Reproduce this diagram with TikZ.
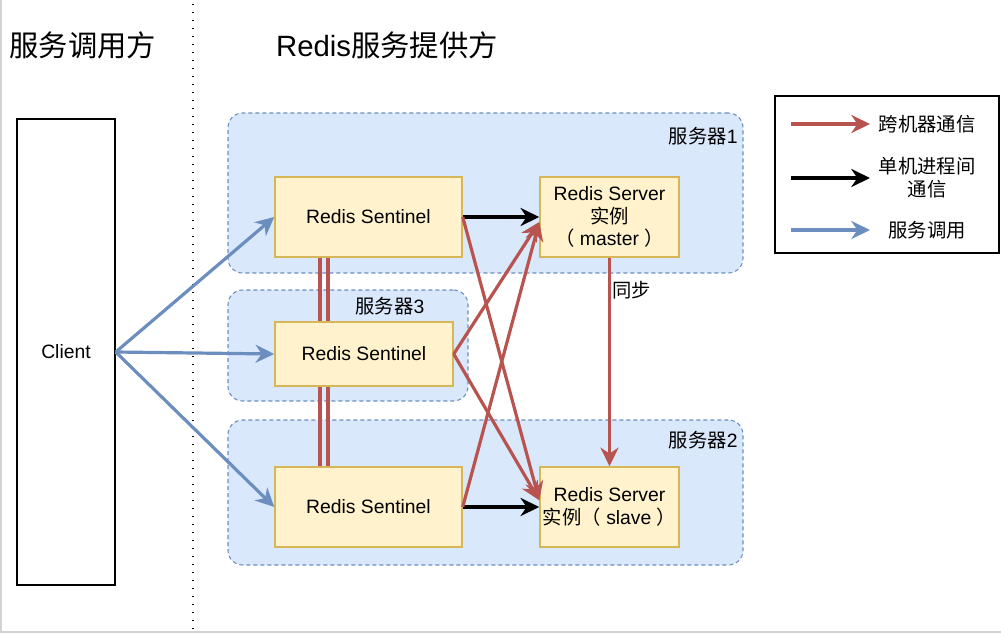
\documentclass[tikz,border=0pt]{standalone}
\usepackage{fontspec}
\setmainfont{Liberation Sans}
\newfontfamily\cjk{Noto Sans CJK SC}
\usetikzlibrary{arrows.meta}
\definecolor{redc}{HTML}{B85450}
\definecolor{bluec}{HTML}{6C8EBF}
\definecolor{bluefill}{HTML}{DAE8FC}
\definecolor{yelfill}{HTML}{FFF2CC}
\definecolor{yeldraw}{HTML}{D6B656}
\begin{document}
\begin{tikzpicture}[x=0.75pt,y=-0.75pt,
  txt/.style={font=\fontsize{14.5pt}{17pt}\selectfont, inner sep=0pt, align=center},
  ttl/.style={font=\fontsize{22pt}{26pt}\selectfont, inner sep=0pt},
  grp/.style={draw=bluec, fill=bluefill, dash pattern=on 3pt off 2.25pt, rounded corners=11pt, line width=0.8pt, inner sep=0pt},
  box/.style={draw=yeldraw, fill=yelfill, line width=1.1pt, txt},
  tip/.style={-{Stealth[length=14pt,width=13.5pt,inset=4.5pt]}},
  redarr/.style={tip, draw=redc, line width=2.4pt},
  blackarr/.style={tip, draw=black, line width=2.6pt},
  bluearr/.style={tip, draw=bluec, line width=2.4pt},
  redline/.style={draw=redc, line width=2.4pt}
]
\useasboundingbox (0,0) rectangle (1001,633);
% frame shadow
\draw[gray!35, line width=1.5pt] (1,0) -- (1,631.5) -- (1001,631.5);
% separator
\draw[line width=0.9pt, dash pattern=on 0.9pt off 5.1pt] (193,4) -- (193,633);
% titles
\node[ttl] (tl) at (83,45) {\cjk 服务调用方};
\node[ttl] (tr) at (387,45) {Redis{\cjk 服务提供方}};
% groups
\node[grp, minimum width=386.25pt, minimum height=120pt] (g1) at (485.5,193) {};
\node[grp, minimum width=180pt, minimum height=83.25pt] (g3) at (348,345.5) {};
\node[grp, minimum width=386.25pt, minimum height=108.75pt] (g2) at (485.5,492.5) {};
\node[txt, anchor=east] (g1l) at (738,136) {{\cjk 服务器}1};
\node[txt] (g3l) at (390,306) {{\cjk 服务器}3};
\node[txt, anchor=east] (g2l) at (738,440) {{\cjk 服务器}2};
% client
\node[draw=black, line width=1.1pt, minimum width=73.5pt, minimum height=349.5pt, txt] (client) at (66,352) {Client};
% sentinels & servers
\node[box, minimum width=140.25pt, minimum height=60pt] (s1) at (368.5,217) {Redis Sentinel};
\node[box, minimum width=133.5pt, minimum height=48pt] (s3) at (364,354) {Redis Sentinel};
\node[box, minimum width=140.25pt, minimum height=60pt] (s2) at (368.5,507) {Redis Sentinel};
\node[box, minimum width=104.25pt, minimum height=60pt] (m) at (609.5,217) {Redis Server\\{\cjk 实例}\\{\cjk （} master {\cjk ）}};
\node[box, minimum width=104.25pt, minimum height=60pt] (sl) at (609.5,507) {Redis Server\\{\cjk 实例（} slave {\cjk ）}};
% double red lines
\coordinate (xa) at (320,0);
\coordinate (xb) at (328,0);
\draw[redline] (s1.south -| xa) -- (s3.north -| xa);
\draw[redline] (s1.south -| xb) -- (s3.north -| xb);
\draw[redline] (s3.south -| xa) -- (s2.north -| xa);
\draw[redline] (s3.south -| xb) -- (s2.north -| xb);
% blue calls
\draw[bluearr] (client.east) -- (s1.west);
\draw[bluearr] (client.east) -- (s3.west);
\draw[bluearr] (client.east) -- (s2.west);
% black local
\draw[blackarr] (s1.east) -- (m.west);
\draw[blackarr] (s2.east) -- (sl.west);
% red cross-machine
\draw[redarr] (s1.east) -- ([yshift=5pt]sl.west);
\draw[redarr] (s3.east) -- ([yshift=5pt]sl.west);
\draw[redarr] (s3.east) -- ([yshift=-3.75pt]m.west);
\draw[redarr] (s2.east) -- ([yshift=-3.75pt]m.west);
\draw[redarr] (m.south) -- (sl.north);
\node[txt, anchor=west] (sync) at (612,290) {\cjk 同步};
% legend
\node[draw=black, line width=1.1pt, minimum width=168pt, minimum height=117.75pt, inner sep=0pt] (leg) at (887,174.5) {};
\coordinate (r1) at (791,124); \coordinate (r2) at (870,124);
\coordinate (k1) at (791,178); \coordinate (k2) at (870,178);
\coordinate (b1) at (791,230); \coordinate (b2) at (870,230);
\draw[redarr] (r1) -- (r2);
\draw[blackarr] (k1) -- (k2);
\draw[bluearr] (b1) -- (b2);
\node[txt] (lt1) at (927,124) {\cjk 跨机器通信};
\node[txt] (lt2) at (927,178) {\cjk 单机进程间\\\cjk 通信};
\node[txt] (lt3) at (927,230) {\cjk 服务调用};
\end{tikzpicture}
\end{document}
